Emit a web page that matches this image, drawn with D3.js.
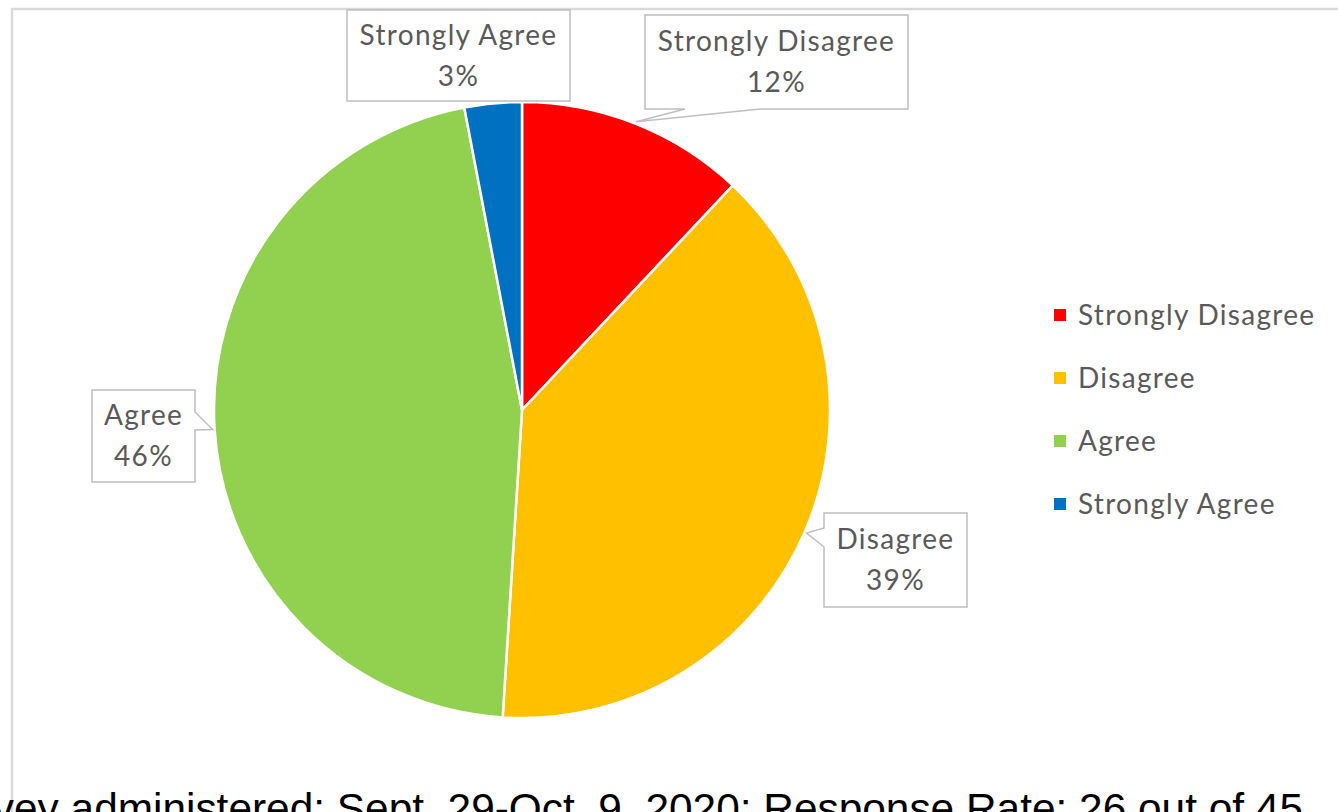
<!DOCTYPE html>
<html>
<head>
<meta charset="utf-8">
<script src="https://cdn.jsdelivr.net/npm/d3@7"></script>
<style>
  html, body { margin: 0; padding: 0; background: #fff; overflow: hidden; }
  svg { display: block; }
</style>
</head>
<body>
<div id="chart"></div>
<script>
// Data
const categories = ["Strongly Disagree", "Disagree", "Agree", "Strongly Agree"];
const percents = [12, 39, 46, 3];
const colors = ["#ff0000", "#ffc000", "#92d050", "#0070c0"];
const footnote = "Survey administered: Sept. 29-Oct. 9, 2020; Response Rate: 26 out of 45";

//Define chart dimensions
const width = 1338;
const height = 812;
const cx = 522;
const cy = 410;
const radius = 308;
const labelFont = "Lato, 'Open Sans', sans-serif";
const labelColor = "#595959";

const svg = d3.select('#chart')
  .append('svg')
  .attr('width', width)
  .attr('height', height);

//Chart frame (only top and left edges are visible)
svg.append('path')
  .attr('d', `M12,${height + 5} L12,9 L${width + 5},9`)
  .attr('fill', 'none')
  .attr('stroke', '#d9d9d9')
  .attr('stroke-width', 2.5);

const g = svg.append('g')
  .attr('transform', `translate(${cx}, ${cy})`);

//Pie generator
const pie = d3.pie()
  .value(d => d)
  .sort(null);
const arcData = pie(percents);
const arc = d3.arc()
  .innerRadius(0)
  .outerRadius(radius);
const edgeArc = d3.arc()
  .innerRadius(radius + 2)
  .outerRadius(radius + 2);

//Draw the slices
g.selectAll('path.slice')
  .data(arcData)
  .join('path')
  .attr('class', 'slice')
  .attr('d', arc)
  .attr('fill', (d, i) => colors[i])
  .attr('stroke', '#fff')
  .attr('stroke-width', 2.5);

//Callout boxes (layout in page coords); side = where the pointer leaves the box
const callouts = [
  { box: [645, 15, 263, 94], side: 'bottom', base: [685, 760] },
  { box: [824, 513, 143, 94], side: 'left', base: [528, 547] },
  { box: [92, 390, 103, 92], side: 'right', base: [412, 430] },
  { box: [347, 10, 223, 91], side: null, base: null }
];

function calloutPath(c, tip) {
  const [x, y, w, h] = c.box;
  const x2 = x + w, y2 = y + h;
  const p = d3.path();
  p.moveTo(x, y);
  p.lineTo(x2, y);
  if (c.side === 'right') {
    p.lineTo(x2, c.base[0]); p.lineTo(tip[0], tip[1]); p.lineTo(x2, c.base[1]);
  }
  p.lineTo(x2, y2);
  if (c.side === 'bottom') {
    p.lineTo(c.base[1], y2); p.lineTo(tip[0], tip[1]); p.lineTo(c.base[0], y2);
  }
  p.lineTo(x, y2);
  if (c.side === 'left') {
    p.lineTo(x, c.base[1]); p.lineTo(tip[0], tip[1]); p.lineTo(x, c.base[0]);
  }
  p.closePath();
  return p.toString();
}

const labels = svg.append('g');
arcData.forEach((d, i) => {
  const c = callouts[i];
  const t = edgeArc.centroid(d);
  const tip = [cx + t[0], cy + t[1]];
  labels.append('path')
    .attr('d', calloutPath(c, tip))
    .attr('fill', '#fff')
    .attr('stroke', '#bfbfbf')
    .attr('stroke-width', 1.5);
  const mx = c.box[0] + c.box[2] / 2;
  const my = c.box[1] + c.box[3] / 2;
  const txt = labels.append('text')
    .attr('x', mx)
    .attr('text-anchor', 'middle')
    .style('font-family', labelFont)
    .style('font-size', '28px')
    .style('letter-spacing', '1.3px')
    .attr('fill', labelColor);
  txt.append('tspan').attr('x', mx).attr('y', my - 11).text(categories[i]);
  txt.append('tspan').attr('x', mx).attr('y', my + 30).text(`${d.data}%`);
});

//Legend
const legend = svg.append('g')
  .attr('transform', 'translate(1054, 315)');
const rows = legend.selectAll('g')
  .data(categories)
  .join('g')
  .attr('transform', (d, i) => `translate(0, ${i * 63})`);
rows.append('rect')
  .attr('x', 0)
  .attr('y', -6)
  .attr('width', 12)
  .attr('height', 12)
  .attr('fill', (d, i) => colors[i]);
rows.append('text')
  .attr('x', 24)
  .attr('y', 0)
  .attr('dy', '0.35em')
  .style('font-family', labelFont)
  .style('font-size', '28px')
  .style('letter-spacing', '1.3px')
  .attr('fill', labelColor)
  .text(d => d);

//Footnote (cut off at the page edges, as in the source image)
svg.append('text')
  .attr('x', 1303)
  .attr('y', 823)
  .attr('text-anchor', 'end')
  .style('font-family', "'Liberation Sans', Arial, sans-serif")
  .style('font-size', '42.4px')
  .attr('fill', '#000')
  .text(footnote);
</script>
</body>
</html>
